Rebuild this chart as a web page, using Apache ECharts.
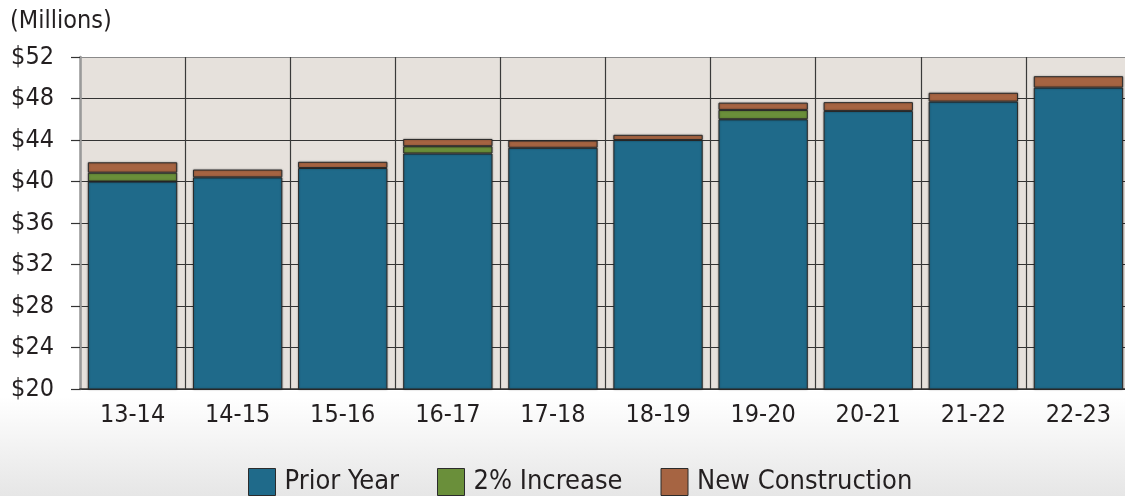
<!DOCTYPE html>
<html>
<head>
<meta charset="utf-8">
<style>
  html, body { margin: 0; padding: 0; background: #fff; overflow: hidden; }
  #chart { width: 1131px; height: 496px; }
</style>
<script src="https://cdn.jsdelivr.net/npm/echarts@6/dist/echarts.min.js"></script>
</head>
<body>
<div id="chart"></div>
<script>
const categories = ['13-14', '14-15', '15-16', '16-17', '17-18', '18-19', '19-20', '20-21', '21-22', '22-23'];
const priorYear = [40.0, 40.4, 41.3, 42.7, 43.25, 44.0, 46.0, 46.8, 47.7, 49.05];
const twoPercent = [0.85, null, null, 0.7, null, null, 0.9, null, null, null];
const newConstruction = [1.0, 0.75, 0.6, 0.7, 0.7, 0.5, 0.7, 0.85, 0.85, 1.1];
const yTicks = [20, 24, 28, 32, 36, 40, 44, 48, 52];

const FONT = "'Liberation Sans Narrow', 'DejaVu Sans Condensed', sans-serif";
const TXT = '#231f20';

const chart = echarts.init(document.getElementById('chart'), null, { renderer: 'canvas' });

const barStyle = (color) => ({
  color: color,
  borderColor: '#2b2b2b',
  borderWidth: 1,
  shadowColor: 'rgba(0,0,0,0.35)',
  shadowBlur: 2
});

chart.setOption({
  animation: false,
  backgroundColor: {
    type: 'linear', x: 0, y: 0, x2: 0, y2: 1,
    colorStops: [
      { offset: 0, color: '#ffffff' },
      { offset: 0.8, color: '#ffffff' },
      { offset: 1, color: '#e6e6e6' }
    ]
  },
  title: {
    text: '(Millions)',
    left: 5,
    top: 4,
    textStyle: { fontFamily: FONT, fontSize: 25, fontWeight: 'normal', color: TXT }
  },
  legend: {
    bottom: -5,
    left: 243,
    icon: 'rect',
    itemWidth: 27,
    itemHeight: 27,
    itemGap: 38,
    textStyle: { fontFamily: FONT, fontSize: 27, color: TXT, padding: [0, 0, 0, 4] },
    itemStyle: { borderColor: '#2b2b2b', borderWidth: 1 },
    data: ['Prior Year', '2% Increase', 'New Construction']
  },
  grid: { left: 80, right: 0, top: 57, bottom: 107, containLabel: false,
          show: true, backgroundColor: '#e6e1dc', borderWidth: 0 },
  xAxis: {
    type: 'category',
    data: categories,
    axisLine: { show: true, lineStyle: { color: '#333', width: 1.5 } },
    axisTick: { show: false },
    axisLabel: { fontFamily: FONT, fontSize: 25, color: TXT, margin: 14 },
    splitLine: { show: true, lineStyle: { color: '#3a3a3a', width: 1.2 } }
  },
  yAxis: {
    type: 'value',
    min: 20,
    max: 52,
    interval: 4,
    axisLine: { show: true, lineStyle: { color: '#9a9a9a', width: 2.5 } },
    axisTick: { show: true, length: 9, lineStyle: { color: '#333', width: 1.2 } },
    axisLabel: {
      fontFamily: FONT, fontSize: 25, color: TXT, margin: 26,
      formatter: (v) => yTicks.includes(v) ? '$' + v : ''
    },
    splitLine: {
      show: true,
      lineStyle: { color: ['#333', '#333', '#333', '#333', '#333', '#333', '#333', '#333', '#8a8a8a'], width: 1.2 }
    }
  },
  series: [
    { name: 'Prior Year', type: 'bar', stack: 'total', data: priorYear,
      barCategoryGap: '15%', itemStyle: barStyle('#1f6a8a') },
    { name: '2% Increase', type: 'bar', stack: 'total', data: twoPercent,
      itemStyle: barStyle('#6a8f3a') },
    { name: 'New Construction', type: 'bar', stack: 'total', data: newConstruction,
      itemStyle: barStyle('#a66442') }
  ]
});
</script>
</body>
</html>
